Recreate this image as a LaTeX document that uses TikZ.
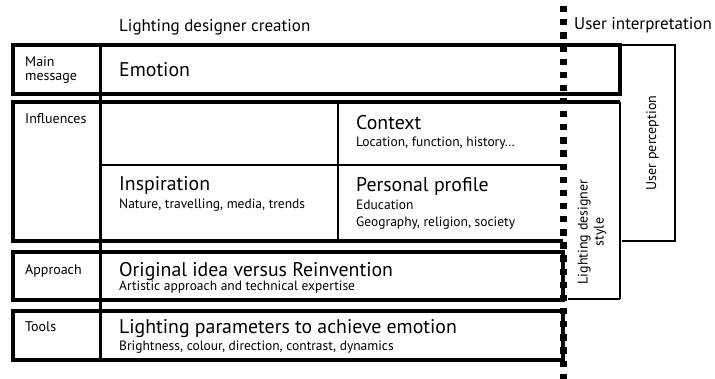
\documentclass[tikz,border=0pt]{standalone}
\usepackage{fontspec}
\setmainfont{PT Sans}
\begin{document}
\begin{tikzpicture}[x=1pt, y=-1pt, line join=miter,
    heavy/.style={line width=3.5pt},
    light/.style={line width=1.5pt},
    lbl/.style={anchor=base west, inner sep=0pt, font=\fontsize{14}{15}\selectfont},
    big/.style={anchor=base west, inner sep=0pt, font=\fontsize{19.8}{22}\selectfont},
    sub/.style={anchor=base west, inner sep=0pt, font=\fontsize{13.5}{16.5}\selectfont},
    head/.style={anchor=base west, inner sep=0pt, font=\fontsize{17}{19}\selectfont}]
        \useasboundingbox (0,0) rectangle (715,379);
        \draw[heavy] (13,45) rectangle (620,94);
        \draw[heavy] (563,241) -- (13,241) -- (13,102) -- (620,102);
        \draw[line width=2.2pt] (620,102) -- (620,299);
        \draw[light] (620,299) -- (568,299);
        \draw[heavy] (13,252) rectangle (563,300);
        \draw[heavy] (13,311) rectangle (563,360);
        \draw[line width=3pt] (100,45) -- (100,360);
        \draw[light] (338,102) -- (338,241);
        \draw[light] (100,165) -- (563,165);
        \draw[light] (620,45) -- (675,45) -- (675,241) -- (622,241);
        \draw[line width=7pt, dash pattern=on 6.3pt off 6.83pt] (563.5,6) -- (563.5,379);
        \node[head] (creation) at (119,31.7) {Lighting designer creation};
        \node[head] (interp) at (574,30) {User interpretation};
        \node[lbl] (main) at (25,66.7) {Main};
        \node[lbl] (message) at (25,81) {message};
        \node[big] (emotion) at (119,76.7) {Emotion};
        \node[lbl] (influences) at (25,123.3) {Influences};
        \node[big] (context) at (356,130) {Context};
        \node[sub] (location) at (356,146.7) {Location, function, history…};
        \node[big] (inspiration) at (119,191) {Inspiration};
        \node[sub] (nature) at (119,208.3) {Nature, travelling, media, trends};
        \node[big] (profile) at (356,191.5) {Personal profile};
        \node[sub] (education) at (356,210) {Education};
        \node[sub] (geography) at (356,226.7) {Geography, religion, society};
        \node[lbl] (approach) at (25,275) {Approach};
        \node[big] (original) at (119,276.7) {Original idea versus Reinvention};
        \node[sub] (artistic) at (119,291) {Artistic approach and technical expertise};
        \node[lbl] (tools) at (25,331.7) {Tools};
        \node[big] (params) at (119,334) {Lighting parameters to achieve emotion};
        \node[sub] (bright) at (119,350.5) {Brightness, colour, direction, contrast, dynamics};
        \node[rotate=90, anchor=base, inner sep=0pt, font=\fontsize{14}{16}\selectfont] (perception) at (656,143) {User perception};
        \node[rotate=90, align=center, inner sep=0pt, font=\fontsize{14}{16}\selectfont] (style) at (592,232) {Lighting designer\\style};
\end{tikzpicture}
\end{document}
